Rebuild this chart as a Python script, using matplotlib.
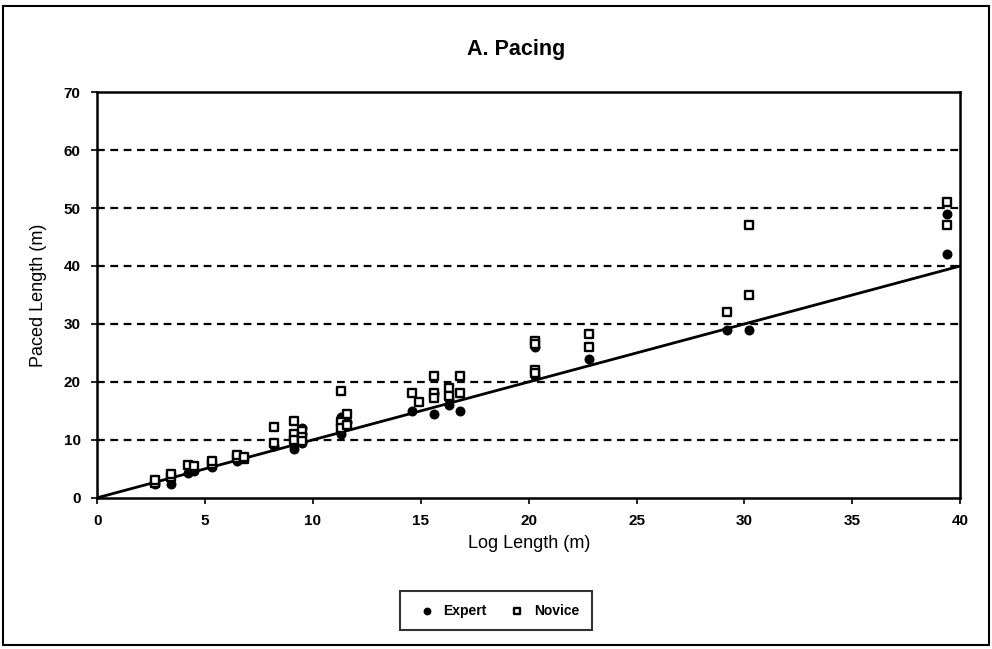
import matplotlib.pyplot as plt
from matplotlib.patches import Rectangle

plt.rcParams['font.family'] = ['Liberation Sans', 'DejaVu Sans']

# Expert (filled circles)
expert_x = [2.7, 3.4, 4.2, 4.5, 5.3, 6.5, 8.2, 9.1, 9.1, 9.5, 9.5, 9.5,
            11.3, 11.3, 11.6, 14.6, 15.6, 15.6, 16.3, 16.3, 16.8,
            20.3, 20.3, 22.8, 29.2, 30.2, 39.4, 39.4]
expert_y = [2.3, 2.4, 4.3, 4.6, 5.3, 6.3, 9.0, 8.5, 9.2, 12.0, 11.0, 9.5,
            11.0, 14.0, 13.0, 15.0, 14.4, 18.0, 17.0, 16.0, 15.0,
            26.0, 21.0, 24.0, 29.0, 29.0, 49.0, 42.0]

# Novice (open squares)
novice_x = [2.7, 2.7, 3.4, 3.4, 4.2, 4.5, 5.3, 5.3, 6.5, 6.5, 6.8, 6.8,
            8.2, 8.2, 9.1, 9.1, 9.1, 9.5, 9.5, 9.5, 11.3, 11.3, 11.3,
            11.6, 11.6, 14.6, 14.9, 15.6, 15.6, 15.6, 16.3, 16.3,
            16.8, 16.8, 20.3, 20.3, 20.3, 20.3, 22.8, 22.8, 29.2,
            30.2, 30.2, 39.4, 39.4]
novice_y = [2.5, 3.0, 3.6, 4.1, 5.7, 5.5, 5.8, 6.4, 6.9, 7.4, 6.7, 7.1,
            12.2, 9.5, 13.3, 11.0, 10.0, 11.5, 10.5, 9.8, 18.5, 13.0, 12.0,
            14.5, 12.5, 18.0, 16.5, 21.0, 18.0, 17.3, 19.0, 17.5,
            21.0, 18.0, 27.0, 26.5, 22.0, 21.5, 28.2, 26.0, 32.0,
            47.0, 35.0, 51.0, 47.0]

line_x = [0, 40]
line_y = [0, 40]

x_ticks = [0, 5, 10, 15, 20, 25, 30, 35, 40]
y_ticks = [0, 10, 20, 30, 40, 50, 60, 70]

fig = plt.figure(figsize=(9.92, 6.49), dpi=100)
ax = fig.add_axes([0.098, 0.233, 0.870, 0.625])

# dashed horizontal grid
for yv in y_ticks[1:-1]:
    ax.axhline(yv, color='black', linestyle=(0, (3.5, 2.5)), linewidth=1.6, zorder=1)

ax.plot(line_x, line_y, color='black', linewidth=2, zorder=2)
ax.scatter(expert_x, expert_y, s=38, marker='o', color='black', zorder=3, label='Expert')
ax.scatter(novice_x, novice_y, s=36, marker='s', facecolor='white', edgecolor='black',
           linewidth=1.7, zorder=4, label='Novice')

ax.set_xlim(0, 40)
ax.set_ylim(0, 70)
ax.set_xticks(x_ticks)
ax.set_yticks(y_ticks)
ax.tick_params(labelsize=11, direction='out', length=4, width=1.2, pad=8)
for lab in ax.get_xticklabels() + ax.get_yticklabels():
    lab.set_fontweight('bold')
for sp in ax.spines.values():
    sp.set_linewidth(1.8)

ax.set_xlabel("Log Length (m)", fontsize=13, labelpad=5)
ax.set_ylabel("Paced Length (m)", fontsize=13, labelpad=12)
fig.text(0.52, 0.923, "A. Pacing", fontsize=15.5, fontweight='bold', ha='center', va='center')

leg = fig.legend(loc='center', bbox_to_anchor=(0.5, 0.059), ncol=2, frameon=True,
                 fancybox=False, edgecolor='black', handletextpad=0.2,
                 columnspacing=1.2, borderpad=0.9, markerscale=0.75,
                 prop={'weight': 'bold', 'size': 10})
leg.get_frame().set_linewidth(1.5)

# outer border around the whole figure
fig.patches.append(Rectangle((0.003, 0.006), 0.994, 0.984, transform=fig.transFigure,
                             fill=False, edgecolor='black', linewidth=1.5))

fig.savefig("out.png", dpi=100)
